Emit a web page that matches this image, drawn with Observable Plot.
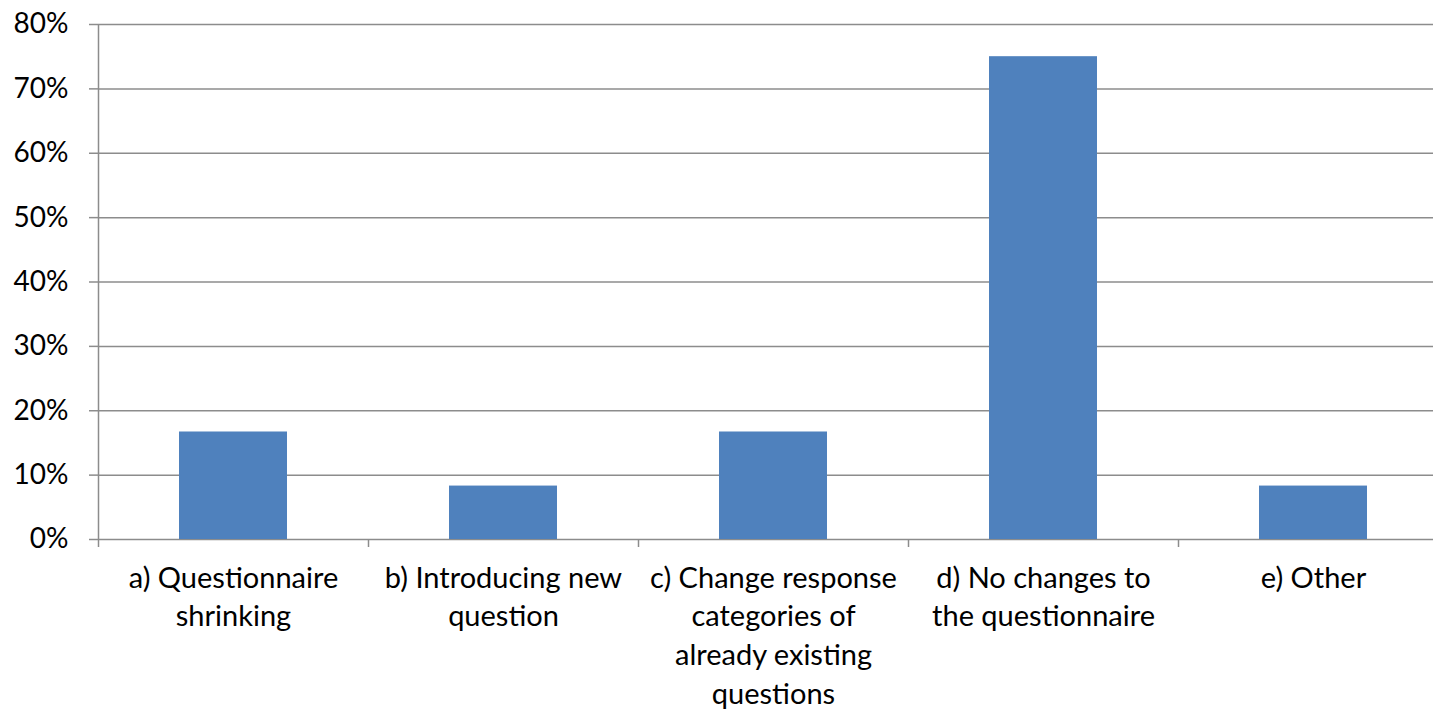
<!DOCTYPE html>
<html><head><meta charset="utf-8">
<script src="https://cdn.jsdelivr.net/npm/d3@7"></script>
<script src="https://cdn.jsdelivr.net/npm/@observablehq/plot@0.6"></script>
<style>body{margin:0;background:#fff;overflow:hidden} svg{display:block}</style>
</head><body><div id="chart"></div>
<script>
const categories = [
  "a) Questionnaire\nshrinking",
  "b) Introducing new\nquestion",
  "c) Change response\ncategories of\nalready existing\nquestions",
  "d) No changes to\nthe questionnaire",
  "e) Other"
];
const values = [0.167, 0.083, 0.167, 0.75, 0.083];
const yTicks = [0, 0.1, 0.2, 0.3, 0.4, 0.5, 0.6, 0.7, 0.8];

const data = categories.map((c, i) => ({c, i, v: values[i]}));
const gray = "#8c8c8c";
const font = "Lato, 'Open Sans', sans-serif";

const chart = Plot.plot({
  width: 1433,
  height: 711,
  marginTop: 24,
  marginBottom: 172,
  marginLeft: 98,
  marginRight: 0,
  style: {fontFamily: font, fontSize: "28px", color: "#000", background: "#fff", overflow: "visible"},
  x: {type: "linear", domain: [0, categories.length], range: [98, 1448]},
  y: {domain: [0, 0.8]},
  marks: [
    Plot.ruleY(yTicks, {stroke: gray, strokeWidth: 1.5}),
    Plot.rectY(data, {x1: d => d.i + 0.3, x2: d => d.i + 0.7, y: "v", fill: "#4f81bd"}),
    Plot.ruleX([0], {y1: 0, y2: 0.8, stroke: gray, strokeWidth: 1.5}),
    Plot.axisY({ticks: yTicks, tickFormat: d3.format(".0%"), tickSize: 9, tickPadding: 21, stroke: gray, strokeWidth: 1.5, strokeOpacity: 1, fontSize: 28, fill: "#000", label: null}),
    Plot.axisX({ticks: d3.range(categories.length + 1), tickFormat: () => "", tickSize: 8, stroke: gray, strokeWidth: 1.5, strokeOpacity: 1, label: null}),
    Plot.text(data, {x: d => d.i + 0.5, y: 0, text: "c", lineAnchor: "top", dy: 21, lineHeight: 1.33, fontSize: 29, fill: "#000"})
  ]
});
document.getElementById("chart").appendChild(chart);
</script></body></html>
